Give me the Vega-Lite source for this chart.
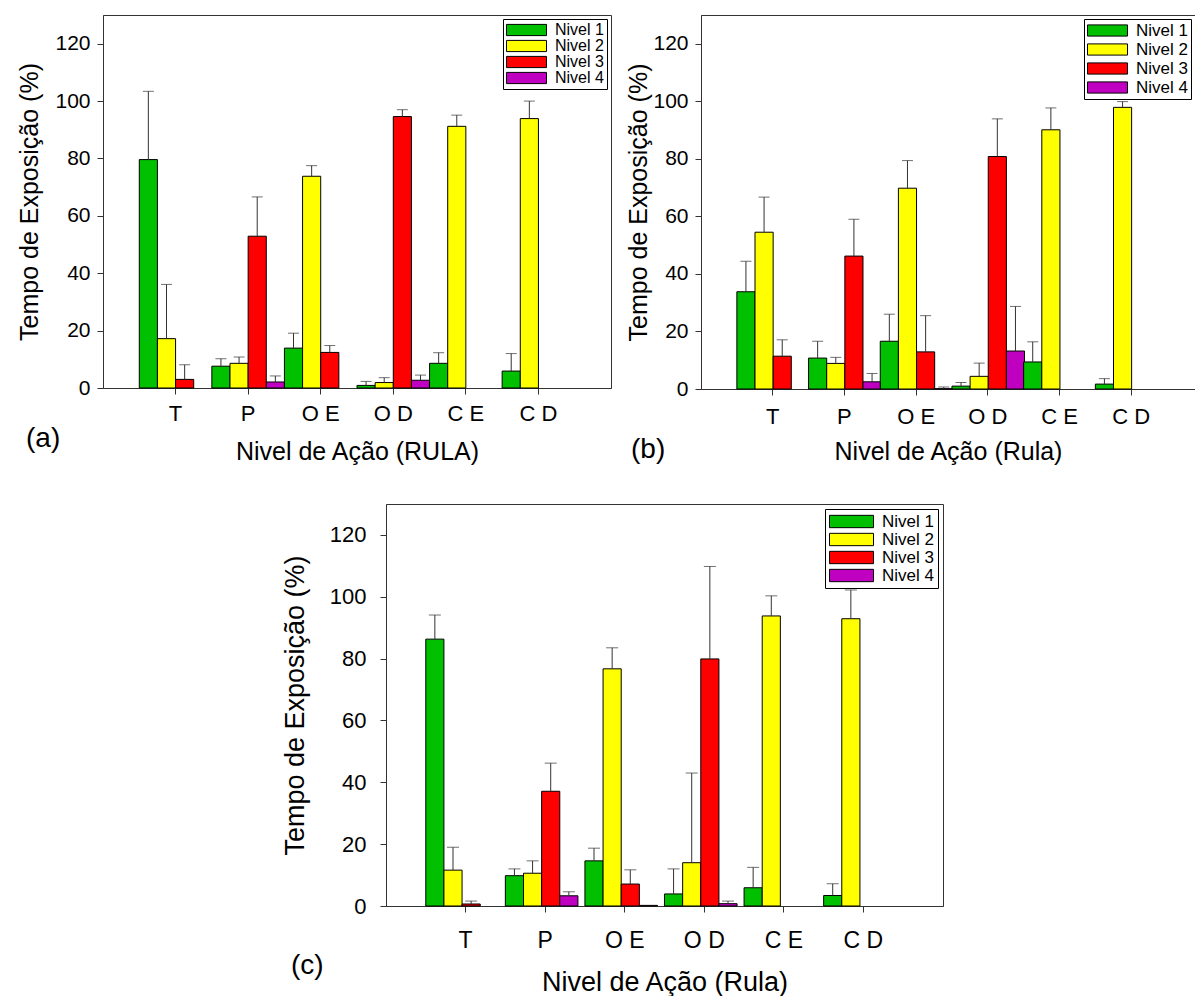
{
  "$schema": "https://vega.github.io/schema/vega-lite/v6.json",
  "background": "white",
  "padding": {"left": 17, "top": 14, "right": 0, "bottom": 0},
  "config": {
    "font": "Liberation Sans",
    "view": {"stroke": "#333", "strokeWidth": 1},
    "axis": {"grid": false, "labelColor": "black", "titleColor": "black", "titleFontWeight": "normal", "domainColor": "#333", "tickColor": "#333", "labelFont": "Liberation Sans", "titleFont": "Liberation Sans"},
    "title": {"font": "Liberation Sans", "fontWeight": "normal", "color": "black"},
    "legend": {"title": null, "orient": "top-right", "strokeColor": "black", "fillColor": "white", "padding": 3, "offset": 4, "symbolType": "M-1,-0.28H1V0.28H-1Z", "symbolSize": 1600, "symbolStrokeColor": "black", "symbolStrokeWidth": 1, "labelFont": "Liberation Sans", "labelColor": "black", "labelOffset": 8}
  },
  "resolve": {"scale": {"color": "independent"}, "legend": {"color": "independent"}},
  "datasets": {
    "bars": [
      {"p": "a", "c": "T", "l": "Nivel 1", "v": 79.6, "h": 103.4},
      {"p": "a", "c": "T", "l": "Nivel 2", "v": 17.2, "h": 36.1},
      {"p": "a", "c": "T", "l": "Nivel 3", "v": 3.0, "h": 8.1},
      {"p": "a", "c": "P", "l": "Nivel 1", "v": 7.6, "h": 10.2},
      {"p": "a", "c": "P", "l": "Nivel 2", "v": 8.6, "h": 10.8},
      {"p": "a", "c": "P", "l": "Nivel 3", "v": 52.9, "h": 66.6},
      {"p": "a", "c": "P", "l": "Nivel 4", "v": 2.1, "h": 4.2},
      {"p": "a", "c": "O E", "l": "Nivel 1", "v": 13.9, "h": 19.1},
      {"p": "a", "c": "O E", "l": "Nivel 2", "v": 73.8, "h": 77.5},
      {"p": "a", "c": "O E", "l": "Nivel 3", "v": 12.4, "h": 14.8},
      {"p": "a", "c": "O D", "l": "Nivel 1", "v": 0.9, "h": 2.3},
      {"p": "a", "c": "O D", "l": "Nivel 2", "v": 1.9, "h": 3.6},
      {"p": "a", "c": "O D", "l": "Nivel 3", "v": 94.6, "h": 97.0},
      {"p": "a", "c": "O D", "l": "Nivel 4", "v": 2.7, "h": 4.5},
      {"p": "a", "c": "C E", "l": "Nivel 1", "v": 8.6, "h": 12.3},
      {"p": "a", "c": "C E", "l": "Nivel 2", "v": 91.2, "h": 95.1},
      {"p": "a", "c": "C D", "l": "Nivel 1", "v": 5.9, "h": 12.0},
      {"p": "a", "c": "C D", "l": "Nivel 2", "v": 93.9, "h": 100.0},

      {"p": "b", "c": "T", "l": "Nivel 1", "v": 33.8, "h": 44.4},
      {"p": "b", "c": "T", "l": "Nivel 2", "v": 54.5, "h": 66.7},
      {"p": "b", "c": "T", "l": "Nivel 3", "v": 11.4, "h": 17.1},
      {"p": "b", "c": "P", "l": "Nivel 1", "v": 10.75, "h": 16.6},
      {"p": "b", "c": "P", "l": "Nivel 2", "v": 8.9, "h": 11.0},
      {"p": "b", "c": "P", "l": "Nivel 3", "v": 46.2, "h": 59.0},
      {"p": "b", "c": "P", "l": "Nivel 4", "v": 2.5, "h": 5.4},
      {"p": "b", "c": "O E", "l": "Nivel 1", "v": 16.6, "h": 26.0},
      {"p": "b", "c": "O E", "l": "Nivel 2", "v": 69.8, "h": 79.4},
      {"p": "b", "c": "O E", "l": "Nivel 3", "v": 12.9, "h": 25.5},
      {"p": "b", "c": "O E", "l": "Nivel 4", "v": 0.1, "h": 0.7},
      {"p": "b", "c": "O D", "l": "Nivel 1", "v": 1.0, "h": 2.3},
      {"p": "b", "c": "O D", "l": "Nivel 2", "v": 4.4, "h": 9.0},
      {"p": "b", "c": "O D", "l": "Nivel 3", "v": 80.8, "h": 93.9},
      {"p": "b", "c": "O D", "l": "Nivel 4", "v": 13.2, "h": 28.7},
      {"p": "b", "c": "C E", "l": "Nivel 1", "v": 9.4, "h": 16.4},
      {"p": "b", "c": "C E", "l": "Nivel 2", "v": 90.1, "h": 97.7},
      {"p": "b", "c": "C D", "l": "Nivel 1", "v": 1.7, "h": 3.6},
      {"p": "b", "c": "C D", "l": "Nivel 2", "v": 97.9, "h": 99.9},

      {"p": "c", "c": "T", "l": "Nivel 1", "v": 86.3, "h": 94.1},
      {"p": "c", "c": "T", "l": "Nivel 2", "v": 11.6, "h": 19.0},
      {"p": "c", "c": "T", "l": "Nivel 3", "v": 0.65, "h": 1.6},
      {"p": "c", "c": "P", "l": "Nivel 1", "v": 9.8, "h": 12.0},
      {"p": "c", "c": "P", "l": "Nivel 2", "v": 10.6, "h": 14.6},
      {"p": "c", "c": "P", "l": "Nivel 3", "v": 37.1, "h": 46.2},
      {"p": "c", "c": "P", "l": "Nivel 4", "v": 3.3, "h": 4.6},
      {"p": "c", "c": "O E", "l": "Nivel 1", "v": 14.6, "h": 18.7},
      {"p": "c", "c": "O E", "l": "Nivel 2", "v": 76.7, "h": 83.5},
      {"p": "c", "c": "O E", "l": "Nivel 3", "v": 7.1, "h": 11.7},
      {"p": "c", "c": "O E", "l": "Nivel 4", "v": 0.2, "h": null},
      {"p": "c", "c": "O D", "l": "Nivel 1", "v": 3.9, "h": 12.0},
      {"p": "c", "c": "O D", "l": "Nivel 2", "v": 14.0, "h": 43.0},
      {"p": "c", "c": "O D", "l": "Nivel 3", "v": 79.9, "h": 109.8},
      {"p": "c", "c": "O D", "l": "Nivel 4", "v": 0.75, "h": 1.6},
      {"p": "c", "c": "C E", "l": "Nivel 1", "v": 5.9, "h": 12.5},
      {"p": "c", "c": "C E", "l": "Nivel 2", "v": 93.8, "h": 100.3},
      {"p": "c", "c": "C D", "l": "Nivel 1", "v": 3.4, "h": 7.2},
      {"p": "c", "c": "C D", "l": "Nivel 2", "v": 92.9, "h": 102.2}
    ]
  },
  "spacing": 38,
  "vconcat": [
    {
      "spacing": 14,
      "resolve": {"scale": {"color": "independent"}, "legend": {"color": "independent"}},
      "hconcat": [
        {
          "width": 508, "height": 373,
          "data": {"name": "bars"},
          "transform": [{"filter": "datum.p == 'a'"}],
          "title": {"text": "(a)", "orient": "bottom", "anchor": "start", "frame": "group", "fontSize": 28, "dx": -77, "dy": -39, "offset": 0},
          "encoding": {
            "x": {"field": "c", "type": "nominal", "sort": null, "title": "Nivel de Ação (RULA)",
              "scale": {"domain": ["T", "P", "O E", "O D", "C E", "C D"], "paddingInner": 0, "paddingOuter": 0.5},
              "axis": {"labelAngle": 0, "labelFontSize": 22, "titleFontSize": 25, "tickSize": 6, "labelPadding": 9, "titlePadding": 15}},
            "xOffset": {"field": "l", "type": "nominal", "scale": {"domain": ["Nivel 1", "Nivel 2", "Nivel 3", "Nivel 4"], "paddingInner": 0, "paddingOuter": 0}}
          },
          "layer": [
            {"mark": {"type": "bar", "stroke": "black", "strokeWidth": 1},
             "encoding": {
               "y": {"field": "v", "type": "quantitative", "title": "Tempo de Exposição (%)", "scale": {"domain": [0, 130]},
                 "axis": {"values": [0, 20, 40, 60, 80, 100, 120], "labelFontSize": 21, "titleFontSize": 25, "tickSize": 6, "labelPadding": 7, "titlePadding": 12}},
               "color": {"field": "l", "type": "nominal", "scale": {"domain": ["Nivel 1", "Nivel 2", "Nivel 3", "Nivel 4"], "range": ["#00C000", "#FFFF00", "#FF0000", "#C000C0"]},
                 "legend": {"labelFontSize": 16, "clipHeight": 16, "rowPadding": 0}}
             }},
            {"transform": [{"filter": "datum.h != null"}],
             "mark": {"type": "rule", "color": "#333", "strokeWidth": 1},
             "encoding": {"y": {"field": "v", "type": "quantitative", "title": "Tempo de Exposição (%)"}, "y2": {"field": "h"}}},
            {"transform": [{"filter": "datum.h != null"}],
             "mark": {"type": "tick", "orient": "horizontal", "color": "#333", "size": 11, "thickness": 1},
             "encoding": {"y": {"field": "h", "type": "quantitative", "title": "Tempo de Exposição (%)"}}}
          ]
        },
        {
          "width": 494, "height": 374,
          "data": {"name": "bars"},
          "transform": [{"filter": "datum.p == 'b'"}],
          "title": {"text": "(b)", "orient": "bottom", "anchor": "start", "frame": "group", "fontSize": 28, "dx": -70, "dy": -28, "offset": 0},
          "encoding": {
            "x": {"field": "c", "type": "nominal", "sort": null, "title": "Nivel de Ação (Rula)",
              "scale": {"domain": ["T", "P", "O E", "O D", "C E", "C D"], "paddingInner": 0, "paddingOuter": 0.445, "align": 0.562},
              "axis": {"labelAngle": 0, "labelFontSize": 22, "titleFontSize": 25, "tickSize": 6, "labelPadding": 11, "titlePadding": 12}},
            "xOffset": {"field": "l", "type": "nominal", "scale": {"domain": ["Nivel 1", "Nivel 2", "Nivel 3", "Nivel 4"], "paddingInner": 0, "paddingOuter": 0}}
          },
          "layer": [
            {"mark": {"type": "bar", "stroke": "black", "strokeWidth": 1},
             "encoding": {
               "y": {"field": "v", "type": "quantitative", "title": "Tempo de Exposição (%)", "scale": {"domain": [0, 130]},
                 "axis": {"values": [0, 20, 40, 60, 80, 100, 120], "labelFontSize": 21, "titleFontSize": 25, "tickSize": 6, "labelPadding": 7, "titlePadding": 1}},
               "color": {"field": "l", "type": "nominal", "scale": {"domain": ["Nivel 1", "Nivel 2", "Nivel 3", "Nivel 4"], "range": ["#00C000", "#FFFF00", "#FF0000", "#C000C0"]},
                 "legend": {"labelFontSize": 17, "clipHeight": 17, "rowPadding": 1}}
             }},
            {"transform": [{"filter": "datum.h != null"}],
             "mark": {"type": "rule", "color": "#333", "strokeWidth": 1},
             "encoding": {"y": {"field": "v", "type": "quantitative", "title": "Tempo de Exposição (%)"}, "y2": {"field": "h"}}},
            {"transform": [{"filter": "datum.h != null"}],
             "mark": {"type": "tick", "orient": "horizontal", "color": "#333", "size": 11, "thickness": 1},
             "encoding": {"y": {"field": "h", "type": "quantitative", "title": "Tempo de Exposição (%)"}}}
          ]
        }
      ]
    },
    {
      "spacing": 10,
      "resolve": {"scale": {"color": "independent"}, "legend": {"color": "independent"}},
      "hconcat": [
        {"width": 167, "height": 10, "data": {"values": [{}]}, "mark": {"type": "point", "opacity": 0}, "encoding": {}, "view": {"stroke": null}},
        {
          "width": 557, "height": 402,
          "data": {"name": "bars"},
          "transform": [{"filter": "datum.p == 'c'"}],
          "title": {"text": "(c)", "orient": "bottom", "anchor": "start", "frame": "group", "fontSize": 28, "dx": -95, "dy": -43, "offset": 0},
          "encoding": {
            "x": {"field": "c", "type": "nominal", "sort": null, "title": "Nivel de Ação (Rula)",
              "scale": {"domain": ["T", "P", "O E", "O D", "C E", "C D"], "paddingInner": 0, "paddingOuter": 0.5},
              "axis": {"labelAngle": 0, "labelFontSize": 23, "titleFontSize": 27, "tickSize": 6, "labelPadding": 17, "titlePadding": 17}},
            "xOffset": {"field": "l", "type": "nominal", "scale": {"domain": ["Nivel 1", "Nivel 2", "Nivel 3", "Nivel 4"], "paddingInner": 0, "paddingOuter": 0}}
          },
          "layer": [
            {"mark": {"type": "bar", "stroke": "black", "strokeWidth": 1},
             "encoding": {
               "y": {"field": "v", "type": "quantitative", "title": "Tempo de Exposição (%)", "scale": {"domain": [0, 130]},
                 "axis": {"values": [0, 20, 40, 60, 80, 100, 120], "labelFontSize": 22, "titleFontSize": 27, "tickSize": 6, "labelPadding": 14, "titlePadding": 20}},
               "color": {"field": "l", "type": "nominal", "scale": {"domain": ["Nivel 1", "Nivel 2", "Nivel 3", "Nivel 4"], "range": ["#00C000", "#FFFF00", "#FF0000", "#C000C0"]},
                 "legend": {"labelFontSize": 17, "clipHeight": 17, "rowPadding": 0, "offset": 5, "padding": 4, "symbolSize": 1936}}
             }},
            {"transform": [{"filter": "datum.h != null"}],
             "mark": {"type": "rule", "color": "#333", "strokeWidth": 1},
             "encoding": {"y": {"field": "v", "type": "quantitative", "title": "Tempo de Exposição (%)"}, "y2": {"field": "h"}}},
            {"transform": [{"filter": "datum.h != null"}],
             "mark": {"type": "tick", "orient": "horizontal", "color": "#333", "size": 12, "thickness": 1},
             "encoding": {"y": {"field": "h", "type": "quantitative", "title": "Tempo de Exposição (%)"}}}
          ]
        }
      ]
    }
  ]
}
